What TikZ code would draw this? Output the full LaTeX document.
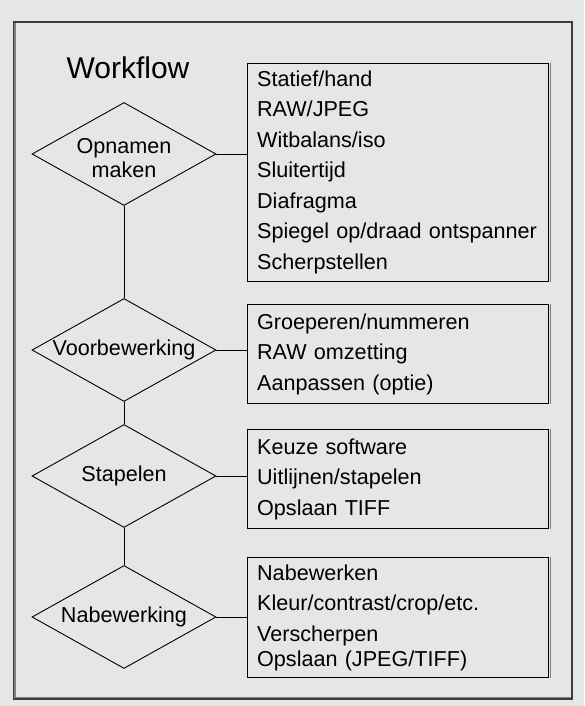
\documentclass[tikz,border=0pt]{standalone}
\usepackage{fontspec}
\setmainfont{Liberation Sans}
\usetikzlibrary{shapes.geometric}
\definecolor{pagebg}{RGB}{230,230,230}
\definecolor{framecol}{RGB}{60,60,60}
\definecolor{shadowcol}{RGB}{128,128,128}
\tikzset{
  stage/.style={draw=black, shape=diamond, inner sep=0pt, aspect=1.8,
    minimum width=184pt, minimum height=103pt, line width=0.9pt,
    font=\fontsize{21.6}{24.5}\selectfont, align=center},
  stagetext/.style={font=\fontsize{21.6}{24.5}\selectfont, align=center, inner sep=0pt},
  itembox/.style={draw=black, anchor=north west, line width=0.9pt,
    text width=281.3pt, minimum width=301.3pt, inner xsep=10pt, inner ysep=0pt,
    align=left, font=\fontsize{21.6}{30.5}\selectfont},
  link/.style={draw=black, line width=0.9pt},
  edgeshade/.style={draw=shadowcol, line width=1.1pt},
}
\begin{document}
\begin{tikzpicture}[x=1pt, y=-1pt]
  \useasboundingbox (0,0) rectangle (584,706);
  \fill[pagebg] (0,0) rectangle (584,706);
  % outer frame with a soft inner edge
  \draw[edgeshade] (15,23.5) -- (15,697.5) -- (571,697.5);
  \draw[framecol, line width=1.2pt] (13.5,22) rectangle (572,699);

  % title
  \node[anchor=base, font=\fontsize{30}{36}\selectfont, inner sep=0pt] (title) at (128,78.3) {Workflow};

  % stages of the workflow
  \node[stage, label={[stagetext, yshift=-4pt]center:Opnamen\\maken}] (d1) at (124,154) {};
  \node[stage] (d2) at (124,350) {Voorbewerking};
  \node[stage] (d3) at (124,476) {Stapelen};
  \node[stage] (d4) at (124,617) {Nabewerking};

  % steps per stage
  \node[itembox, minimum height=218.3pt] (b1) at (246.7,62.7)
    {Statief/hand\\RAW/JPEG\\Witbalans/iso\\Sluitertijd\\Diafragma\\Spiegel op/draad ontspanner\\Scherpstellen};
  \node[itembox, minimum height=99pt] (b2) at (246.7,304)
    {Groeperen/nummeren\\RAW omzetting\\Aanpassen (optie)};
  \node[itembox, minimum height=99pt] (b3) at (246.7,429)
    {Keuze software\\Uitlijnen/stapelen\\Opslaan TIFF};
  \node[itembox, minimum height=120pt] (b4) at (246.7,557)
    {Nabewerken\\Kleur/contrast/crop/etc.\\Verscherpen\\[-5.5pt]Opslaan (JPEG/TIFF)};

  % grey edge along the right side of each step box
  \foreach \b in {b1,b2,b3,b4}
    \draw[edgeshade] ([xshift=1.2pt]\b.north east) -- ([xshift=1.2pt]\b.south east);

  % connectors
  \draw[link] (d1.south) -- (d2.north);
  \draw[link] (d2.south) -- (d3.north);
  \draw[link] (d3.south) -- (d4.north);
  \draw[link] (d1.east) -- (d1.east -| b1.west);
  \draw[link] (d2.east) -- (d2.east -| b2.west);
  \draw[link] (d3.east) -- (d3.east -| b3.west);
  \draw[link] (d4.east) -- (d4.east -| b4.west);
\end{tikzpicture}
\end{document}
